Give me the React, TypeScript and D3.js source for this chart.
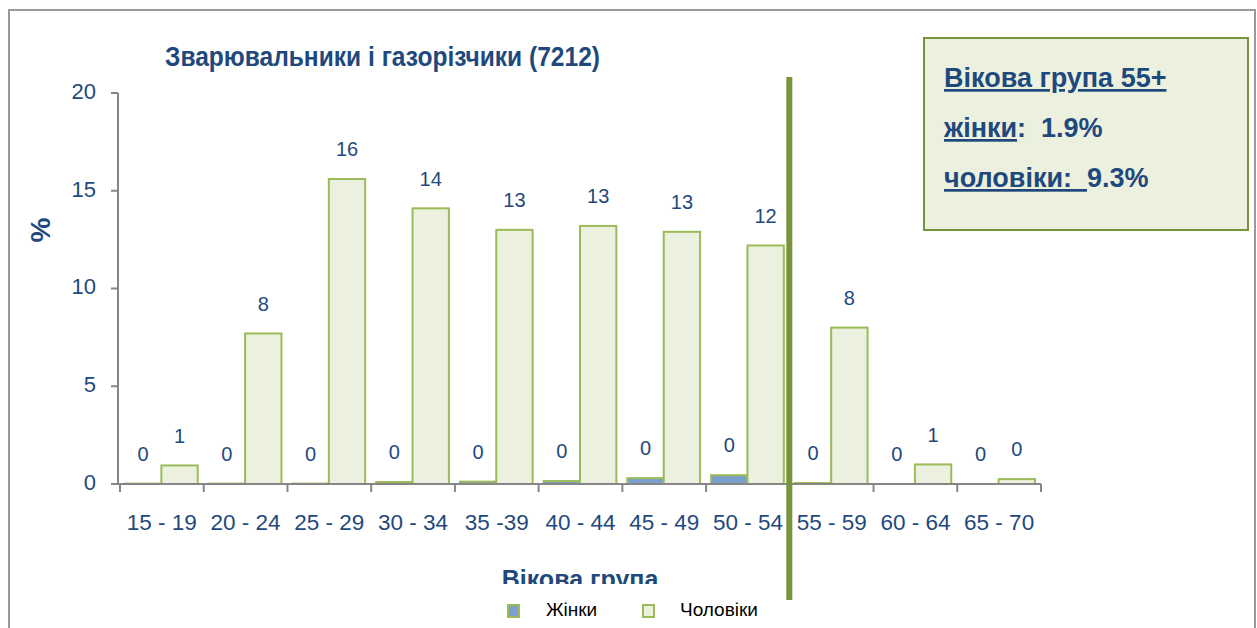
import * as d3 from 'd3';

const ageGroups = ['15 - 19', '20 - 24', '25 - 29', '30 - 34', '35 -39', '40 - 44', '45 - 49', '50 - 54', '55 - 59', '60 - 64', '65 - 70'];
const women = [0.02, 0.02, 0.02, 0.1, 0.12, 0.15, 0.3, 0.45, 0.05, 0, 0];
const men = [0.95, 7.7, 15.6, 14.1, 13.0, 13.2, 12.9, 12.2, 8.0, 1.0, 0.25];
const yTicks = [0, 5, 10, 15, 20];
const seriesNames = ['Жінки', 'Чоловіки'];

const blue = '#1F497D';
const green = '#9BBB59';
const greenFill = '#EBF1DE';
const olive = '#77933C';
const axisGray = '#868686';
const font = 'Liberation Sans, Arial, sans-serif';
const nb = '\u00A0';

export default function App() {
  const width = 1257;
  const height = 628;
  const margin = { top: 93, left: 120, right: 216, bottom: 144 };
  const boundsWidth = width - margin.left - margin.right;
  const boundsHeight = height - margin.top - margin.bottom;

  const xScale = d3.scaleBand().domain(ageGroups).range([0, boundsWidth]);
  const inner = d3.scaleBand().domain(['w', 'm']).range([5, xScale.bandwidth() - 6]);
  const yScale = d3.scaleLinear().domain([0, 20]).range([boundsHeight, 0]);

  const bars = ageGroups.map((g, i) => {
    const x0 = xScale(g)!;
    const items = [
      { key: 'w', v: women[i], fill: '#7BA0CD' },
      { key: 'm', v: men[i], fill: greenFill },
    ];
    return (
      <g key={g}>
        {items.map((it) => {
          const bx = x0 + inner(it.key)!;
          const by = yScale(it.v);
          return (
            <g key={it.key}>
              <rect x={bx} y={by} width={inner.bandwidth()} height={boundsHeight - by} fill={it.fill} stroke={green} strokeWidth={2} />
              <text
                x={bx + inner.bandwidth() / 2}
                y={Math.min(by, boundsHeight) - 28}
                textAnchor="middle"
                dominantBaseline="middle"
                fontSize={20}
                fill={blue}
              >
                {Math.round(it.v)}
              </text>
            </g>
          );
        })}
      </g>
    );
  });

  const xTickPos = [...ageGroups.map((g) => xScale(g)!), boundsWidth];
  const lineX = xScale('55 - 59')! - 0.5;

  return (
    <svg width={width} height={height} style={{ position: 'absolute', left: 0, top: 0, fontFamily: font }}>
      <rect x={0} y={0} width={width} height={height} fill="white" />
      {/* outer frame */}
      <path d={`M9,${height} V10 H1255 V${height}`} fill="none" stroke="#9A9A9A" strokeWidth={2} />

      <text
        x={165}
        y={66}
        fontSize={27}
        fontWeight="bold"
        fill={blue}
        fontFamily="Liberation Sans Narrow, Arial Narrow, Liberation Sans, sans-serif"
        textLength={435}
        lengthAdjust="spacingAndGlyphs"
      >
        Зварювальники і газорізчики (7212)
      </text>

      <g transform={`translate(${margin.left},${margin.top})`}>
        {/* y axis */}
        <line x1={-2} x2={-2} y1={0} y2={boundsHeight} stroke={axisGray} strokeWidth={2} />
        {yTicks.map((t) => (
          <g key={t} transform={`translate(0,${yScale(t)})`}>
            <line x1={-9} x2={-2} stroke={axisGray} strokeWidth={2} />
            <text x={-24} textAnchor="end" dominantBaseline="middle" fontSize={22} fill={blue}>
              {t}
            </text>
          </g>
        ))}
        <text transform={`translate(-77,${230 - margin.top}) rotate(-90)`} textAnchor="middle" dominantBaseline="middle" fontSize={28} fontWeight="bold" fill={blue}>
          %
        </text>

        {bars}

        {/* x axis */}
        <line x1={-9} x2={boundsWidth} y1={boundsHeight} y2={boundsHeight} stroke={axisGray} strokeWidth={2} />
        {xTickPos.map((x, i) => (
          <line key={i} x1={x} x2={x} y1={boundsHeight} y2={boundsHeight + 8} stroke={axisGray} strokeWidth={2} />
        ))}
        {ageGroups.map((g) => (
          <text key={g} x={xScale(g)! + xScale.bandwidth() / 2} y={boundsHeight + 40} textAnchor="middle" dominantBaseline="middle" fontSize={22.5} fill={blue}>
            {g}
          </text>
        ))}
      </g>

      {/* axis title, clipped by legend area */}
      <text x={580} y={588} textAnchor="middle" fontSize={25} fontWeight="bold" fill={blue}>
        Вікова група
      </text>
      <rect x={430} y={584} width={420} height={44} fill="white" />

      {/* legend */}
      <rect x={508} y={605} width={11} height={12} fill="#7BA0CD" stroke={green} strokeWidth={2} />
      <text x={546} y={611} dominantBaseline="middle" fontSize={19} fill="#000">
        {seriesNames[0]}
      </text>
      <rect x={643} y={605} width={11} height={12} fill={greenFill} stroke={green} strokeWidth={2} />
      <text x={680} y={611} dominantBaseline="middle" fontSize={19} fill="#000">
        {seriesNames[1]}
      </text>

      {/* 55+ divider */}
      <line x1={margin.left + lineX} x2={margin.left + lineX} y1={77} y2={600} stroke={olive} strokeWidth={6} />

      {/* annotation box */}
      <rect x={924} y={38} width={324} height={192} fill={greenFill} stroke={olive} strokeWidth={2} />
      <g fontSize={27} fontWeight="bold" fill={blue}>
        <text x={944} y={87} textDecoration="underline">Вікова група 55+</text>
        <text x={944} y={137}>
          <tspan textDecoration="underline">жінки</tspan>
          <tspan>{`:${nb}${nb}1.9%`}</tspan>
        </text>
        <text x={944} y={187}>
          <tspan textDecoration="underline">{`чоловіки:${nb}${nb}`}</tspan>
          <tspan>9.3%</tspan>
        </text>
      </g>
    </svg>
  );
}
